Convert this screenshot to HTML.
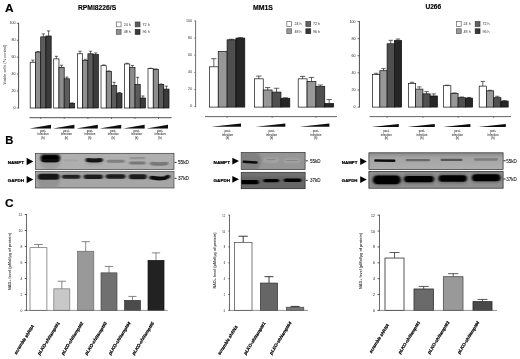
<!DOCTYPE html>
<html lang="en"><head><meta charset="utf-8"><title>Figure</title>
<style>html,body{margin:0;padding:0;background:#fff;}svg{display:block;font-family:'Liberation Sans', sans-serif;}</style>
</head><body>
<svg width="520" height="359" viewBox="0 0 520 359">
<defs>
<filter id="b1" filterUnits="userSpaceOnUse" x="0" y="140" width="520" height="60"><feGaussianBlur stdDeviation="0.9 0.6"/></filter>
<filter id="b2" filterUnits="userSpaceOnUse" x="0" y="140" width="520" height="60"><feGaussianBlur stdDeviation="1.3 0.9"/></filter>
<filter id="b3" filterUnits="userSpaceOnUse" x="0" y="140" width="520" height="60"><feGaussianBlur stdDeviation="0.6 0.45"/></filter>
<filter id="soft" x="-5%" y="-5%" width="110%" height="110%"><feGaussianBlur stdDeviation="0.35"/></filter>
<linearGradient id="g3a" x1="0" y1="0" x2="0" y2="1"><stop offset="0" stop-color="#8a8a8a"/><stop offset="0.3" stop-color="#a4a4a4"/><stop offset="1" stop-color="#aeaeae"/></linearGradient>
</defs>
<rect x="0" y="0" width="520" height="359" fill="#fff"/>
<g filter="url(#soft)">
<text x="5.00" y="11.60" font-size="11.2" font-weight="bold" text-anchor="start" fill="#000" stroke="#000" stroke-width="0.15" textLength="8.60" lengthAdjust="spacingAndGlyphs">A</text>
<text x="5.30" y="144.30" font-size="11.2" font-weight="bold" text-anchor="start" fill="#000" stroke="#000" stroke-width="0.15" textLength="8.10" lengthAdjust="spacingAndGlyphs">B</text>
<text x="4.90" y="206.90" font-size="11.6" font-weight="bold" text-anchor="start" fill="#000" stroke="#000" stroke-width="0.15" textLength="8.60" lengthAdjust="spacingAndGlyphs">C</text>
<text x="78.00" y="10.20" font-size="6.9" font-weight="bold" text-anchor="start" fill="#000" stroke="#000" stroke-width="0.15" textLength="38.20" lengthAdjust="spacingAndGlyphs">RPMI8226/S</text>
<text x="253.00" y="9.50" font-size="6.9" font-weight="bold" text-anchor="start" fill="#000" stroke="#000" stroke-width="0.15" textLength="20.00" lengthAdjust="spacingAndGlyphs">MM1S</text>
<text x="425.40" y="9.30" font-size="6.9" font-weight="bold" text-anchor="start" fill="#000" stroke="#000" stroke-width="0.15" textLength="15.80" lengthAdjust="spacingAndGlyphs">U266</text>
<line x1="18.60" y1="22.90" x2="18.60" y2="108.40" stroke="#3a3a3a" stroke-width="0.9"/>
<line x1="16.80" y1="108.00" x2="18.60" y2="108.00" stroke="#3a3a3a" stroke-width="0.7"/>
<text x="15.60" y="108.90" font-size="4.1" font-weight="normal" text-anchor="end" fill="#2a2a2a"  textLength="2.07" lengthAdjust="spacingAndGlyphs">0</text>
<line x1="16.80" y1="91.06" x2="18.60" y2="91.06" stroke="#3a3a3a" stroke-width="0.7"/>
<text x="15.60" y="91.96" font-size="4.1" font-weight="normal" text-anchor="end" fill="#2a2a2a"  textLength="4.13" lengthAdjust="spacingAndGlyphs">20</text>
<line x1="16.80" y1="74.12" x2="18.60" y2="74.12" stroke="#3a3a3a" stroke-width="0.7"/>
<text x="15.60" y="75.02" font-size="4.1" font-weight="normal" text-anchor="end" fill="#2a2a2a"  textLength="4.13" lengthAdjust="spacingAndGlyphs">40</text>
<line x1="16.80" y1="57.18" x2="18.60" y2="57.18" stroke="#3a3a3a" stroke-width="0.7"/>
<text x="15.60" y="58.08" font-size="4.1" font-weight="normal" text-anchor="end" fill="#2a2a2a"  textLength="4.13" lengthAdjust="spacingAndGlyphs">60</text>
<line x1="16.80" y1="40.24" x2="18.60" y2="40.24" stroke="#3a3a3a" stroke-width="0.7"/>
<text x="15.60" y="41.14" font-size="4.1" font-weight="normal" text-anchor="end" fill="#2a2a2a"  textLength="4.13" lengthAdjust="spacingAndGlyphs">80</text>
<line x1="16.80" y1="23.30" x2="18.60" y2="23.30" stroke="#3a3a3a" stroke-width="0.7"/>
<text x="15.60" y="24.20" font-size="4.1" font-weight="normal" text-anchor="end" fill="#2a2a2a"  textLength="6.20" lengthAdjust="spacingAndGlyphs">100</text>
<line x1="32.83" y1="62.26" x2="32.83" y2="60.14" stroke="#222" stroke-width="0.7"/>
<line x1="31.25" y1="60.14" x2="34.40" y2="60.14" stroke="#222" stroke-width="0.7"/>
<rect x="30.20" y="62.26" width="5.25" height="45.74" fill="#ffffff" stroke="#111" stroke-width="0.7" />
<line x1="38.08" y1="52.10" x2="38.08" y2="51.59" stroke="#222" stroke-width="0.7"/>
<line x1="36.50" y1="51.59" x2="39.65" y2="51.59" stroke="#222" stroke-width="0.7"/>
<rect x="35.45" y="52.10" width="5.25" height="55.90" fill="#8e8e8e" stroke="#111" stroke-width="0.7" />
<line x1="43.33" y1="36.85" x2="43.33" y2="33.89" stroke="#222" stroke-width="0.7"/>
<line x1="41.75" y1="33.89" x2="44.90" y2="33.89" stroke="#222" stroke-width="0.7"/>
<rect x="40.70" y="36.85" width="5.25" height="71.15" fill="#5c5c5c" stroke="#111" stroke-width="0.7" />
<line x1="48.58" y1="36.00" x2="48.58" y2="30.92" stroke="#222" stroke-width="0.7"/>
<line x1="47.00" y1="30.92" x2="50.15" y2="30.92" stroke="#222" stroke-width="0.7"/>
<rect x="45.95" y="36.00" width="5.25" height="72.00" fill="#3a3a3a" stroke="#111" stroke-width="0.7" />
<line x1="56.33" y1="58.87" x2="56.33" y2="56.33" stroke="#222" stroke-width="0.7"/>
<line x1="54.75" y1="56.33" x2="57.90" y2="56.33" stroke="#222" stroke-width="0.7"/>
<rect x="53.70" y="58.87" width="5.25" height="49.13" fill="#ffffff" stroke="#111" stroke-width="0.7" />
<line x1="61.58" y1="67.34" x2="61.58" y2="65.23" stroke="#222" stroke-width="0.7"/>
<line x1="60.00" y1="65.23" x2="63.15" y2="65.23" stroke="#222" stroke-width="0.7"/>
<rect x="58.95" y="67.34" width="5.25" height="40.66" fill="#8e8e8e" stroke="#111" stroke-width="0.7" />
<line x1="66.83" y1="78.78" x2="66.83" y2="77.08" stroke="#222" stroke-width="0.7"/>
<line x1="65.25" y1="77.08" x2="68.40" y2="77.08" stroke="#222" stroke-width="0.7"/>
<rect x="64.20" y="78.78" width="5.25" height="29.22" fill="#5c5c5c" stroke="#111" stroke-width="0.7" />
<line x1="72.08" y1="103.34" x2="72.08" y2="102.83" stroke="#222" stroke-width="0.7"/>
<line x1="70.50" y1="102.83" x2="73.65" y2="102.83" stroke="#222" stroke-width="0.7"/>
<rect x="69.45" y="103.34" width="5.25" height="4.66" fill="#3a3a3a" stroke="#111" stroke-width="0.7" />
<line x1="80.03" y1="53.79" x2="80.03" y2="51.25" stroke="#222" stroke-width="0.7"/>
<line x1="78.45" y1="51.25" x2="81.60" y2="51.25" stroke="#222" stroke-width="0.7"/>
<rect x="77.40" y="53.79" width="5.25" height="54.21" fill="#ffffff" stroke="#111" stroke-width="0.7" />
<line x1="85.28" y1="60.57" x2="85.28" y2="59.30" stroke="#222" stroke-width="0.7"/>
<line x1="83.70" y1="59.30" x2="86.85" y2="59.30" stroke="#222" stroke-width="0.7"/>
<rect x="82.65" y="60.57" width="5.25" height="47.43" fill="#8e8e8e" stroke="#111" stroke-width="0.7" />
<line x1="90.53" y1="53.79" x2="90.53" y2="51.25" stroke="#222" stroke-width="0.7"/>
<line x1="88.95" y1="51.25" x2="92.10" y2="51.25" stroke="#222" stroke-width="0.7"/>
<rect x="87.90" y="53.79" width="5.25" height="54.21" fill="#5c5c5c" stroke="#111" stroke-width="0.7" />
<line x1="95.78" y1="54.64" x2="95.78" y2="52.95" stroke="#222" stroke-width="0.7"/>
<line x1="94.20" y1="52.95" x2="97.35" y2="52.95" stroke="#222" stroke-width="0.7"/>
<rect x="93.15" y="54.64" width="5.25" height="53.36" fill="#3a3a3a" stroke="#111" stroke-width="0.7" />
<line x1="103.62" y1="65.65" x2="103.62" y2="64.97" stroke="#222" stroke-width="0.7"/>
<line x1="102.05" y1="64.97" x2="105.20" y2="64.97" stroke="#222" stroke-width="0.7"/>
<rect x="101.00" y="65.65" width="5.25" height="42.35" fill="#ffffff" stroke="#111" stroke-width="0.7" />
<line x1="108.88" y1="71.58" x2="108.88" y2="70.90" stroke="#222" stroke-width="0.7"/>
<line x1="107.30" y1="70.90" x2="110.45" y2="70.90" stroke="#222" stroke-width="0.7"/>
<rect x="106.25" y="71.58" width="5.25" height="36.42" fill="#8e8e8e" stroke="#111" stroke-width="0.7" />
<line x1="114.12" y1="85.55" x2="114.12" y2="82.34" stroke="#222" stroke-width="0.7"/>
<line x1="112.55" y1="82.34" x2="115.70" y2="82.34" stroke="#222" stroke-width="0.7"/>
<rect x="111.50" y="85.55" width="5.25" height="22.45" fill="#5c5c5c" stroke="#111" stroke-width="0.7" />
<line x1="119.38" y1="93.18" x2="119.38" y2="92.67" stroke="#222" stroke-width="0.7"/>
<line x1="117.80" y1="92.67" x2="120.95" y2="92.67" stroke="#222" stroke-width="0.7"/>
<rect x="116.75" y="93.18" width="5.25" height="14.82" fill="#3a3a3a" stroke="#111" stroke-width="0.7" />
<line x1="127.12" y1="63.96" x2="127.12" y2="63.28" stroke="#222" stroke-width="0.7"/>
<line x1="125.55" y1="63.28" x2="128.70" y2="63.28" stroke="#222" stroke-width="0.7"/>
<rect x="124.50" y="63.96" width="5.25" height="44.04" fill="#ffffff" stroke="#111" stroke-width="0.7" />
<line x1="132.38" y1="67.51" x2="132.38" y2="65.48" stroke="#222" stroke-width="0.7"/>
<line x1="130.80" y1="65.48" x2="133.95" y2="65.48" stroke="#222" stroke-width="0.7"/>
<rect x="129.75" y="67.51" width="5.25" height="40.49" fill="#8e8e8e" stroke="#111" stroke-width="0.7" />
<line x1="137.62" y1="84.54" x2="137.62" y2="77.34" stroke="#222" stroke-width="0.7"/>
<line x1="136.05" y1="77.34" x2="139.20" y2="77.34" stroke="#222" stroke-width="0.7"/>
<rect x="135.00" y="84.54" width="5.25" height="23.46" fill="#5c5c5c" stroke="#111" stroke-width="0.7" />
<line x1="142.88" y1="98.01" x2="142.88" y2="95.97" stroke="#222" stroke-width="0.7"/>
<line x1="141.30" y1="95.97" x2="144.45" y2="95.97" stroke="#222" stroke-width="0.7"/>
<rect x="140.25" y="98.01" width="5.25" height="9.99" fill="#3a3a3a" stroke="#111" stroke-width="0.7" />
<line x1="150.62" y1="68.61" x2="150.62" y2="68.19" stroke="#222" stroke-width="0.7"/>
<line x1="149.05" y1="68.19" x2="152.20" y2="68.19" stroke="#222" stroke-width="0.7"/>
<rect x="148.00" y="68.61" width="5.25" height="39.39" fill="#ffffff" stroke="#111" stroke-width="0.7" />
<line x1="155.88" y1="69.55" x2="155.88" y2="68.87" stroke="#222" stroke-width="0.7"/>
<line x1="154.30" y1="68.87" x2="157.45" y2="68.87" stroke="#222" stroke-width="0.7"/>
<rect x="153.25" y="69.55" width="5.25" height="38.45" fill="#8e8e8e" stroke="#111" stroke-width="0.7" />
<line x1="161.12" y1="84.54" x2="161.12" y2="84.03" stroke="#222" stroke-width="0.7"/>
<line x1="159.55" y1="84.03" x2="162.70" y2="84.03" stroke="#222" stroke-width="0.7"/>
<rect x="158.50" y="84.54" width="5.25" height="23.46" fill="#5c5c5c" stroke="#111" stroke-width="0.7" />
<line x1="166.38" y1="89.11" x2="166.38" y2="86.15" stroke="#222" stroke-width="0.7"/>
<line x1="164.80" y1="86.15" x2="167.95" y2="86.15" stroke="#222" stroke-width="0.7"/>
<rect x="163.75" y="89.11" width="5.25" height="18.89" fill="#3a3a3a" stroke="#111" stroke-width="0.7" />
<line x1="29.50" y1="117.70" x2="171.60" y2="117.70" stroke="#3a3a3a" stroke-width="0.9"/>
<line x1="40.70" y1="117.70" x2="40.70" y2="119.00" stroke="#444" stroke-width="0.7"/>
<line x1="64.20" y1="117.70" x2="64.20" y2="119.00" stroke="#444" stroke-width="0.7"/>
<line x1="87.90" y1="117.70" x2="87.90" y2="119.00" stroke="#444" stroke-width="0.7"/>
<line x1="111.50" y1="117.70" x2="111.50" y2="119.00" stroke="#444" stroke-width="0.7"/>
<line x1="135.00" y1="117.70" x2="135.00" y2="119.00" stroke="#444" stroke-width="0.7"/>
<line x1="158.50" y1="117.70" x2="158.50" y2="119.00" stroke="#444" stroke-width="0.7"/>
<text transform="translate(6.0,64.6) rotate(-90)" font-size="4.0" text-anchor="middle" fill="#333" textLength="40" lengthAdjust="spacingAndGlyphs">Viable cells (% control)</text>
<rect x="116.30" y="22.00" width="4.80" height="4.80" fill="#ffffff" stroke="#666" stroke-width="0.7" />
<rect x="116.30" y="29.50" width="4.80" height="4.80" fill="#8e8e8e" stroke="#5a5a5a" stroke-width="0.7" />
<rect x="135.20" y="22.00" width="4.80" height="4.80" fill="#5c5c5c" stroke="#3a3a3a" stroke-width="0.7" />
<rect x="135.20" y="29.50" width="4.80" height="4.80" fill="#3a3a3a" stroke="#222" stroke-width="0.7" />
<text x="123.80" y="25.85" font-size="4.0" font-weight="normal" text-anchor="start" fill="#2a2a2a"  textLength="7.10" lengthAdjust="spacingAndGlyphs">24 h</text>
<text x="123.80" y="33.35" font-size="4.0" font-weight="normal" text-anchor="start" fill="#2a2a2a"  textLength="7.10" lengthAdjust="spacingAndGlyphs">48 h</text>
<text x="142.60" y="25.85" font-size="4.0" font-weight="normal" text-anchor="start" fill="#2a2a2a"  textLength="7.10" lengthAdjust="spacingAndGlyphs">72 h</text>
<text x="142.60" y="33.35" font-size="4.0" font-weight="normal" text-anchor="start" fill="#2a2a2a"  textLength="7.10" lengthAdjust="spacingAndGlyphs">96 h</text>
<polygon points="29.60,128.50 51.00,128.50 51.00,124.80" fill="#0a0a0a"/>
<text x="43.00" y="131.60" font-size="2.6" font-weight="bold" text-anchor="middle" fill="#404040"  textLength="6.20" lengthAdjust="spacingAndGlyphs">post-</text>
<text x="43.00" y="135.00" font-size="2.6" font-weight="bold" text-anchor="middle" fill="#404040"  textLength="11.00" lengthAdjust="spacingAndGlyphs">infection</text>
<text x="43.00" y="138.60" font-size="2.6" font-weight="bold" text-anchor="middle" fill="#404040" >(h)</text>
<polygon points="53.00,128.50 74.40,128.50 74.40,124.80" fill="#0a0a0a"/>
<text x="66.40" y="131.60" font-size="2.6" font-weight="bold" text-anchor="middle" fill="#404040"  textLength="6.20" lengthAdjust="spacingAndGlyphs">post-</text>
<text x="66.40" y="135.00" font-size="2.6" font-weight="bold" text-anchor="middle" fill="#404040"  textLength="11.00" lengthAdjust="spacingAndGlyphs">infection</text>
<text x="66.40" y="138.60" font-size="2.6" font-weight="bold" text-anchor="middle" fill="#404040" >(h)</text>
<polygon points="76.40,128.50 97.80,128.50 97.80,124.80" fill="#0a0a0a"/>
<text x="89.80" y="131.60" font-size="2.6" font-weight="bold" text-anchor="middle" fill="#404040"  textLength="6.20" lengthAdjust="spacingAndGlyphs">post-</text>
<text x="89.80" y="135.00" font-size="2.6" font-weight="bold" text-anchor="middle" fill="#404040"  textLength="11.00" lengthAdjust="spacingAndGlyphs">infection</text>
<text x="89.80" y="138.60" font-size="2.6" font-weight="bold" text-anchor="middle" fill="#404040" >(h)</text>
<polygon points="99.80,128.50 121.20,128.50 121.20,124.80" fill="#0a0a0a"/>
<text x="113.20" y="131.60" font-size="2.6" font-weight="bold" text-anchor="middle" fill="#404040"  textLength="6.20" lengthAdjust="spacingAndGlyphs">post-</text>
<text x="113.20" y="135.00" font-size="2.6" font-weight="bold" text-anchor="middle" fill="#404040"  textLength="11.00" lengthAdjust="spacingAndGlyphs">infection</text>
<text x="113.20" y="138.60" font-size="2.6" font-weight="bold" text-anchor="middle" fill="#404040" >(h)</text>
<polygon points="123.20,128.50 144.60,128.50 144.60,124.80" fill="#0a0a0a"/>
<text x="136.60" y="131.60" font-size="2.6" font-weight="bold" text-anchor="middle" fill="#404040"  textLength="6.20" lengthAdjust="spacingAndGlyphs">post-</text>
<text x="136.60" y="135.00" font-size="2.6" font-weight="bold" text-anchor="middle" fill="#404040"  textLength="11.00" lengthAdjust="spacingAndGlyphs">infection</text>
<text x="136.60" y="138.60" font-size="2.6" font-weight="bold" text-anchor="middle" fill="#404040" >(h)</text>
<polygon points="146.60,128.50 168.00,128.50 168.00,124.80" fill="#0a0a0a"/>
<text x="160.00" y="131.60" font-size="2.6" font-weight="bold" text-anchor="middle" fill="#404040"  textLength="6.20" lengthAdjust="spacingAndGlyphs">post-</text>
<text x="160.00" y="135.00" font-size="2.6" font-weight="bold" text-anchor="middle" fill="#404040"  textLength="11.00" lengthAdjust="spacingAndGlyphs">infection</text>
<text x="160.00" y="138.60" font-size="2.6" font-weight="bold" text-anchor="middle" fill="#404040" >(h)</text>
<line x1="195.60" y1="20.60" x2="195.60" y2="107.10" stroke="#4a4a4a" stroke-width="0.8"/>
<line x1="194.30" y1="106.70" x2="195.60" y2="106.70" stroke="#4a4a4a" stroke-width="0.7"/>
<text x="191.90" y="107.20" font-size="3.9" font-weight="normal" text-anchor="end" fill="#333"  textLength="2.00" lengthAdjust="spacingAndGlyphs">0</text>
<line x1="194.30" y1="89.56" x2="195.60" y2="89.56" stroke="#4a4a4a" stroke-width="0.7"/>
<text x="191.90" y="90.06" font-size="3.9" font-weight="normal" text-anchor="end" fill="#333"  textLength="4.00" lengthAdjust="spacingAndGlyphs">20</text>
<line x1="194.30" y1="72.42" x2="195.60" y2="72.42" stroke="#4a4a4a" stroke-width="0.7"/>
<text x="191.90" y="72.92" font-size="3.9" font-weight="normal" text-anchor="end" fill="#333"  textLength="4.00" lengthAdjust="spacingAndGlyphs">40</text>
<line x1="194.30" y1="55.28" x2="195.60" y2="55.28" stroke="#4a4a4a" stroke-width="0.7"/>
<text x="191.90" y="55.78" font-size="3.9" font-weight="normal" text-anchor="end" fill="#333"  textLength="4.00" lengthAdjust="spacingAndGlyphs">60</text>
<line x1="194.30" y1="38.14" x2="195.60" y2="38.14" stroke="#4a4a4a" stroke-width="0.7"/>
<text x="191.90" y="38.64" font-size="3.9" font-weight="normal" text-anchor="end" fill="#333"  textLength="4.00" lengthAdjust="spacingAndGlyphs">80</text>
<line x1="194.30" y1="21.00" x2="195.60" y2="21.00" stroke="#4a4a4a" stroke-width="0.7"/>
<text x="191.90" y="21.50" font-size="3.9" font-weight="normal" text-anchor="end" fill="#333"  textLength="6.00" lengthAdjust="spacingAndGlyphs">100</text>
<line x1="213.83" y1="66.82" x2="213.83" y2="58.68" stroke="#222" stroke-width="0.7"/>
<line x1="211.17" y1="58.68" x2="216.48" y2="58.68" stroke="#222" stroke-width="0.7"/>
<rect x="209.40" y="66.82" width="8.85" height="40.28" fill="#ffffff" stroke="#111" stroke-width="0.7" />
<rect x="218.25" y="51.40" width="8.85" height="55.71" fill="#989898" stroke="#111" stroke-width="0.7" />
<line x1="231.53" y1="39.83" x2="231.53" y2="39.31" stroke="#222" stroke-width="0.7"/>
<line x1="228.87" y1="39.31" x2="234.18" y2="39.31" stroke="#222" stroke-width="0.7"/>
<rect x="227.10" y="39.83" width="8.85" height="67.27" fill="#505050" stroke="#111" stroke-width="0.7" />
<line x1="240.38" y1="38.11" x2="240.38" y2="37.60" stroke="#222" stroke-width="0.7"/>
<line x1="237.72" y1="37.60" x2="243.03" y2="37.60" stroke="#222" stroke-width="0.7"/>
<rect x="235.95" y="38.11" width="8.85" height="68.99" fill="#262626" stroke="#111" stroke-width="0.7" />
<line x1="258.82" y1="78.82" x2="258.82" y2="76.08" stroke="#222" stroke-width="0.7"/>
<line x1="256.17" y1="76.08" x2="261.48" y2="76.08" stroke="#222" stroke-width="0.7"/>
<rect x="254.40" y="78.82" width="8.85" height="28.28" fill="#ffffff" stroke="#111" stroke-width="0.7" />
<line x1="267.68" y1="89.96" x2="267.68" y2="87.56" stroke="#222" stroke-width="0.7"/>
<line x1="265.02" y1="87.56" x2="270.33" y2="87.56" stroke="#222" stroke-width="0.7"/>
<rect x="263.25" y="89.96" width="8.85" height="17.14" fill="#989898" stroke="#111" stroke-width="0.7" />
<line x1="276.53" y1="92.10" x2="276.53" y2="88.25" stroke="#222" stroke-width="0.7"/>
<line x1="273.87" y1="88.25" x2="279.18" y2="88.25" stroke="#222" stroke-width="0.7"/>
<rect x="272.10" y="92.10" width="8.85" height="15.00" fill="#505050" stroke="#111" stroke-width="0.7" />
<line x1="285.38" y1="98.27" x2="285.38" y2="97.76" stroke="#222" stroke-width="0.7"/>
<line x1="282.72" y1="97.76" x2="288.03" y2="97.76" stroke="#222" stroke-width="0.7"/>
<rect x="280.95" y="98.27" width="8.85" height="8.83" fill="#262626" stroke="#111" stroke-width="0.7" />
<line x1="302.62" y1="78.82" x2="302.62" y2="76.42" stroke="#222" stroke-width="0.7"/>
<line x1="299.97" y1="76.42" x2="305.28" y2="76.42" stroke="#222" stroke-width="0.7"/>
<rect x="298.20" y="78.82" width="8.85" height="28.28" fill="#ffffff" stroke="#111" stroke-width="0.7" />
<line x1="311.48" y1="81.39" x2="311.48" y2="77.45" stroke="#222" stroke-width="0.7"/>
<line x1="308.82" y1="77.45" x2="314.13" y2="77.45" stroke="#222" stroke-width="0.7"/>
<rect x="307.05" y="81.39" width="8.85" height="25.71" fill="#989898" stroke="#111" stroke-width="0.7" />
<line x1="320.32" y1="86.53" x2="320.32" y2="84.99" stroke="#222" stroke-width="0.7"/>
<line x1="317.67" y1="84.99" x2="322.98" y2="84.99" stroke="#222" stroke-width="0.7"/>
<rect x="315.90" y="86.53" width="8.85" height="20.57" fill="#505050" stroke="#111" stroke-width="0.7" />
<line x1="329.18" y1="103.50" x2="329.18" y2="99.56" stroke="#222" stroke-width="0.7"/>
<line x1="326.52" y1="99.56" x2="331.83" y2="99.56" stroke="#222" stroke-width="0.7"/>
<rect x="324.75" y="103.50" width="8.85" height="3.60" fill="#262626" stroke="#111" stroke-width="0.7" />
<line x1="205.00" y1="116.60" x2="337.00" y2="116.60" stroke="#666" stroke-width="1.0"/>
<line x1="227.10" y1="116.60" x2="227.10" y2="117.90" stroke="#444" stroke-width="0.7"/>
<line x1="272.10" y1="116.60" x2="272.10" y2="117.90" stroke="#444" stroke-width="0.7"/>
<line x1="315.90" y1="116.60" x2="315.90" y2="117.90" stroke="#444" stroke-width="0.7"/>
<rect x="286.80" y="21.60" width="4.80" height="4.80" fill="#ffffff" stroke="#666" stroke-width="0.7" />
<rect x="286.80" y="28.80" width="4.80" height="4.80" fill="#999999" stroke="#5a5a5a" stroke-width="0.7" />
<rect x="305.90" y="21.60" width="4.80" height="4.80" fill="#626262" stroke="#3a3a3a" stroke-width="0.7" />
<rect x="305.90" y="28.80" width="4.80" height="4.80" fill="#383838" stroke="#222" stroke-width="0.7" />
<text x="294.40" y="25.45" font-size="4.0" font-weight="normal" text-anchor="start" fill="#2a2a2a"  textLength="7.10" lengthAdjust="spacingAndGlyphs">24 h</text>
<text x="294.40" y="32.65" font-size="4.0" font-weight="normal" text-anchor="start" fill="#2a2a2a"  textLength="7.10" lengthAdjust="spacingAndGlyphs">48 h</text>
<text x="313.00" y="25.45" font-size="4.0" font-weight="normal" text-anchor="start" fill="#2a2a2a"  textLength="7.10" lengthAdjust="spacingAndGlyphs">72 h</text>
<text x="313.00" y="32.65" font-size="4.0" font-weight="normal" text-anchor="start" fill="#2a2a2a"  textLength="7.10" lengthAdjust="spacingAndGlyphs">96 h</text>
<polygon points="211.20,126.80 241.00,126.80 241.00,123.40" fill="#0a0a0a"/>
<text x="227.50" y="132.10" font-size="2.6" font-weight="bold" text-anchor="middle" fill="#404040"  textLength="6.20" lengthAdjust="spacingAndGlyphs">post-</text>
<text x="227.50" y="135.50" font-size="2.6" font-weight="bold" text-anchor="middle" fill="#404040"  textLength="11.00" lengthAdjust="spacingAndGlyphs">infection</text>
<text x="227.50" y="139.10" font-size="2.6" font-weight="bold" text-anchor="middle" fill="#404040" >(h)</text>
<polygon points="255.50,126.80 285.30,126.80 285.30,123.40" fill="#0a0a0a"/>
<text x="271.50" y="132.10" font-size="2.6" font-weight="bold" text-anchor="middle" fill="#404040"  textLength="6.20" lengthAdjust="spacingAndGlyphs">post-</text>
<text x="271.50" y="135.50" font-size="2.6" font-weight="bold" text-anchor="middle" fill="#404040"  textLength="11.00" lengthAdjust="spacingAndGlyphs">infection</text>
<text x="271.50" y="139.10" font-size="2.6" font-weight="bold" text-anchor="middle" fill="#404040" >(h)</text>
<polygon points="299.60,126.80 329.40,126.80 329.40,123.40" fill="#0a0a0a"/>
<text x="315.80" y="132.10" font-size="2.6" font-weight="bold" text-anchor="middle" fill="#404040"  textLength="6.20" lengthAdjust="spacingAndGlyphs">post-</text>
<text x="315.80" y="135.50" font-size="2.6" font-weight="bold" text-anchor="middle" fill="#404040"  textLength="11.00" lengthAdjust="spacingAndGlyphs">infection</text>
<text x="315.80" y="139.10" font-size="2.6" font-weight="bold" text-anchor="middle" fill="#404040" >(h)</text>
<line x1="359.40" y1="21.10" x2="359.40" y2="107.50" stroke="#333" stroke-width="0.9"/>
<line x1="357.50" y1="107.10" x2="359.40" y2="107.10" stroke="#333" stroke-width="0.7"/>
<text x="355.60" y="108.40" font-size="4.0" font-weight="normal" text-anchor="end" fill="#2a2a2a"  textLength="2.07" lengthAdjust="spacingAndGlyphs">0</text>
<line x1="357.50" y1="89.98" x2="359.40" y2="89.98" stroke="#333" stroke-width="0.7"/>
<text x="355.60" y="91.28" font-size="4.0" font-weight="normal" text-anchor="end" fill="#2a2a2a"  textLength="4.13" lengthAdjust="spacingAndGlyphs">20</text>
<line x1="357.50" y1="72.86" x2="359.40" y2="72.86" stroke="#333" stroke-width="0.7"/>
<text x="355.60" y="74.16" font-size="4.0" font-weight="normal" text-anchor="end" fill="#2a2a2a"  textLength="4.13" lengthAdjust="spacingAndGlyphs">40</text>
<line x1="357.50" y1="55.74" x2="359.40" y2="55.74" stroke="#333" stroke-width="0.7"/>
<text x="355.60" y="57.04" font-size="4.0" font-weight="normal" text-anchor="end" fill="#2a2a2a"  textLength="4.13" lengthAdjust="spacingAndGlyphs">60</text>
<line x1="357.50" y1="38.62" x2="359.40" y2="38.62" stroke="#333" stroke-width="0.7"/>
<text x="355.60" y="39.92" font-size="4.0" font-weight="normal" text-anchor="end" fill="#2a2a2a"  textLength="4.13" lengthAdjust="spacingAndGlyphs">80</text>
<line x1="357.50" y1="21.50" x2="359.40" y2="21.50" stroke="#333" stroke-width="0.7"/>
<text x="355.60" y="22.80" font-size="4.0" font-weight="normal" text-anchor="end" fill="#2a2a2a"  textLength="6.20" lengthAdjust="spacingAndGlyphs">100</text>
<line x1="376.23" y1="74.57" x2="376.23" y2="73.29" stroke="#222" stroke-width="0.7"/>
<line x1="374.05" y1="73.29" x2="378.40" y2="73.29" stroke="#222" stroke-width="0.7"/>
<rect x="372.60" y="74.57" width="7.25" height="32.53" fill="#ffffff" stroke="#111" stroke-width="0.7" />
<line x1="383.48" y1="70.72" x2="383.48" y2="68.58" stroke="#222" stroke-width="0.7"/>
<line x1="381.30" y1="68.58" x2="385.65" y2="68.58" stroke="#222" stroke-width="0.7"/>
<rect x="379.85" y="70.72" width="7.25" height="36.38" fill="#989898" stroke="#111" stroke-width="0.7" />
<line x1="390.73" y1="43.76" x2="390.73" y2="40.33" stroke="#222" stroke-width="0.7"/>
<line x1="388.55" y1="40.33" x2="392.90" y2="40.33" stroke="#222" stroke-width="0.7"/>
<rect x="387.10" y="43.76" width="7.25" height="63.34" fill="#505050" stroke="#111" stroke-width="0.7" />
<line x1="397.98" y1="40.33" x2="397.98" y2="39.05" stroke="#222" stroke-width="0.7"/>
<line x1="395.80" y1="39.05" x2="400.15" y2="39.05" stroke="#222" stroke-width="0.7"/>
<rect x="394.35" y="40.33" width="7.25" height="66.77" fill="#262626" stroke="#111" stroke-width="0.7" />
<line x1="412.02" y1="83.56" x2="412.02" y2="82.28" stroke="#222" stroke-width="0.7"/>
<line x1="409.85" y1="82.28" x2="414.20" y2="82.28" stroke="#222" stroke-width="0.7"/>
<rect x="408.40" y="83.56" width="7.25" height="23.54" fill="#ffffff" stroke="#111" stroke-width="0.7" />
<line x1="419.27" y1="89.12" x2="419.27" y2="86.90" stroke="#222" stroke-width="0.7"/>
<line x1="417.10" y1="86.90" x2="421.45" y2="86.90" stroke="#222" stroke-width="0.7"/>
<rect x="415.65" y="89.12" width="7.25" height="17.98" fill="#989898" stroke="#111" stroke-width="0.7" />
<line x1="426.52" y1="93.83" x2="426.52" y2="91.61" stroke="#222" stroke-width="0.7"/>
<line x1="424.35" y1="91.61" x2="428.70" y2="91.61" stroke="#222" stroke-width="0.7"/>
<rect x="422.90" y="93.83" width="7.25" height="13.27" fill="#505050" stroke="#111" stroke-width="0.7" />
<line x1="433.77" y1="95.97" x2="433.77" y2="93.92" stroke="#222" stroke-width="0.7"/>
<line x1="431.60" y1="93.92" x2="435.95" y2="93.92" stroke="#222" stroke-width="0.7"/>
<rect x="430.15" y="95.97" width="7.25" height="11.13" fill="#262626" stroke="#111" stroke-width="0.7" />
<line x1="447.23" y1="85.70" x2="447.23" y2="85.19" stroke="#222" stroke-width="0.7"/>
<line x1="445.05" y1="85.19" x2="449.40" y2="85.19" stroke="#222" stroke-width="0.7"/>
<rect x="443.60" y="85.70" width="7.25" height="21.40" fill="#ffffff" stroke="#111" stroke-width="0.7" />
<line x1="454.48" y1="93.40" x2="454.48" y2="92.89" stroke="#222" stroke-width="0.7"/>
<line x1="452.30" y1="92.89" x2="456.65" y2="92.89" stroke="#222" stroke-width="0.7"/>
<rect x="450.85" y="93.40" width="7.25" height="13.70" fill="#989898" stroke="#111" stroke-width="0.7" />
<line x1="461.73" y1="97.68" x2="461.73" y2="97.00" stroke="#222" stroke-width="0.7"/>
<line x1="459.55" y1="97.00" x2="463.90" y2="97.00" stroke="#222" stroke-width="0.7"/>
<rect x="458.10" y="97.68" width="7.25" height="9.42" fill="#505050" stroke="#111" stroke-width="0.7" />
<line x1="468.98" y1="98.11" x2="468.98" y2="97.43" stroke="#222" stroke-width="0.7"/>
<line x1="466.80" y1="97.43" x2="471.15" y2="97.43" stroke="#222" stroke-width="0.7"/>
<rect x="465.35" y="98.11" width="7.25" height="8.99" fill="#262626" stroke="#111" stroke-width="0.7" />
<line x1="482.82" y1="86.13" x2="482.82" y2="81.42" stroke="#222" stroke-width="0.7"/>
<line x1="480.65" y1="81.42" x2="485.00" y2="81.42" stroke="#222" stroke-width="0.7"/>
<rect x="479.20" y="86.13" width="7.25" height="20.97" fill="#ffffff" stroke="#111" stroke-width="0.7" />
<line x1="490.07" y1="90.84" x2="490.07" y2="90.32" stroke="#222" stroke-width="0.7"/>
<line x1="487.90" y1="90.32" x2="492.25" y2="90.32" stroke="#222" stroke-width="0.7"/>
<rect x="486.45" y="90.84" width="7.25" height="16.26" fill="#989898" stroke="#111" stroke-width="0.7" />
<line x1="497.32" y1="97.68" x2="497.32" y2="96.31" stroke="#222" stroke-width="0.7"/>
<line x1="495.15" y1="96.31" x2="499.50" y2="96.31" stroke="#222" stroke-width="0.7"/>
<rect x="493.70" y="97.68" width="7.25" height="9.42" fill="#505050" stroke="#111" stroke-width="0.7" />
<line x1="504.57" y1="101.11" x2="504.57" y2="100.59" stroke="#222" stroke-width="0.7"/>
<line x1="502.40" y1="100.59" x2="506.75" y2="100.59" stroke="#222" stroke-width="0.7"/>
<rect x="500.95" y="101.11" width="7.25" height="5.99" fill="#262626" stroke="#111" stroke-width="0.7" />
<line x1="369.60" y1="116.60" x2="511.00" y2="116.60" stroke="#555" stroke-width="0.9"/>
<line x1="387.10" y1="116.60" x2="387.10" y2="117.90" stroke="#444" stroke-width="0.7"/>
<line x1="422.90" y1="116.60" x2="422.90" y2="117.90" stroke="#444" stroke-width="0.7"/>
<line x1="458.10" y1="116.60" x2="458.10" y2="117.90" stroke="#444" stroke-width="0.7"/>
<line x1="493.70" y1="116.60" x2="493.70" y2="117.90" stroke="#444" stroke-width="0.7"/>
<rect x="456.40" y="21.60" width="4.80" height="4.80" fill="#ffffff" stroke="#666" stroke-width="0.7" />
<rect x="456.40" y="28.80" width="4.80" height="4.80" fill="#999999" stroke="#5a5a5a" stroke-width="0.7" />
<rect x="475.20" y="21.60" width="4.80" height="4.80" fill="#626262" stroke="#3a3a3a" stroke-width="0.7" />
<rect x="475.20" y="28.80" width="4.80" height="4.80" fill="#383838" stroke="#222" stroke-width="0.7" />
<text x="463.60" y="25.45" font-size="4.0" font-weight="normal" text-anchor="start" fill="#2a2a2a"  textLength="7.10" lengthAdjust="spacingAndGlyphs">24 h</text>
<text x="463.60" y="32.65" font-size="4.0" font-weight="normal" text-anchor="start" fill="#2a2a2a"  textLength="7.10" lengthAdjust="spacingAndGlyphs">48 h</text>
<text x="482.40" y="25.45" font-size="4.0" font-weight="normal" text-anchor="start" fill="#2a2a2a"  textLength="7.10" lengthAdjust="spacingAndGlyphs">72 h</text>
<text x="482.40" y="32.65" font-size="4.0" font-weight="normal" text-anchor="start" fill="#2a2a2a"  textLength="7.10" lengthAdjust="spacingAndGlyphs">96 h</text>
<polygon points="371.40,127.10 398.80,127.10 398.80,124.00" fill="#0a0a0a"/>
<text x="386.30" y="132.10" font-size="2.6" font-weight="bold" text-anchor="middle" fill="#404040"  textLength="6.20" lengthAdjust="spacingAndGlyphs">post-</text>
<text x="386.30" y="135.50" font-size="2.6" font-weight="bold" text-anchor="middle" fill="#404040"  textLength="11.00" lengthAdjust="spacingAndGlyphs">infection</text>
<text x="386.30" y="139.10" font-size="2.6" font-weight="bold" text-anchor="middle" fill="#404040" >(h)</text>
<polygon points="407.40,127.10 434.80,127.10 434.80,124.00" fill="#0a0a0a"/>
<text x="421.90" y="132.10" font-size="2.6" font-weight="bold" text-anchor="middle" fill="#404040"  textLength="6.20" lengthAdjust="spacingAndGlyphs">post-</text>
<text x="421.90" y="135.50" font-size="2.6" font-weight="bold" text-anchor="middle" fill="#404040"  textLength="11.00" lengthAdjust="spacingAndGlyphs">infection</text>
<text x="421.90" y="139.10" font-size="2.6" font-weight="bold" text-anchor="middle" fill="#404040" >(h)</text>
<polygon points="443.00,127.10 470.40,127.10 470.40,124.00" fill="#0a0a0a"/>
<text x="457.40" y="132.10" font-size="2.6" font-weight="bold" text-anchor="middle" fill="#404040"  textLength="6.20" lengthAdjust="spacingAndGlyphs">post-</text>
<text x="457.40" y="135.50" font-size="2.6" font-weight="bold" text-anchor="middle" fill="#404040"  textLength="11.00" lengthAdjust="spacingAndGlyphs">infection</text>
<text x="457.40" y="139.10" font-size="2.6" font-weight="bold" text-anchor="middle" fill="#404040" >(h)</text>
<polygon points="478.40,127.10 505.80,127.10 505.80,124.00" fill="#0a0a0a"/>
<text x="493.00" y="132.10" font-size="2.6" font-weight="bold" text-anchor="middle" fill="#404040"  textLength="6.20" lengthAdjust="spacingAndGlyphs">post-</text>
<text x="493.00" y="135.50" font-size="2.6" font-weight="bold" text-anchor="middle" fill="#404040"  textLength="11.00" lengthAdjust="spacingAndGlyphs">infection</text>
<text x="493.00" y="139.10" font-size="2.6" font-weight="bold" text-anchor="middle" fill="#404040" >(h)</text>
<g>
<rect x="35.50" y="153.30" width="138.50" height="16.20" fill="#afafaf" stroke="#333" stroke-width="0.65" />
<rect x="35.50" y="171.30" width="138.50" height="16.70" fill="#a6a6a6" stroke="#333" stroke-width="0.65" />
<clipPath id="c1a"><rect x="35.4" y="153.4" width="138.4" height="15.7"/></clipPath>
<clipPath id="c1b"><rect x="35.4" y="171.5" width="138.4" height="16.3"/></clipPath>
<g clip-path="url(#c1a)">
<rect x="39.80" y="152.00" width="21.00" height="18.00" rx="9.00" fill="#9c9c9c" opacity="0.85" filter="url(#b2)"/>
<rect x="40.30" y="152.60" width="20.00" height="10.00" rx="5.00" fill="#4a4a4a" opacity="0.85" filter="url(#b1)"/>
<rect x="41.10" y="155.00" width="18.40" height="7.20" rx="3.60" fill="#0c0c0c" opacity="1.0" filter="url(#b1)"/>
<rect x="42.30" y="156.10" width="16.00" height="2.60" rx="1.30" fill="#000" opacity="1.0" filter="url(#b3)"/>
<rect x="42.30" y="159.40" width="16.00" height="2.40" rx="1.20" fill="#111" opacity="0.8" filter="url(#b3)"/>
<rect x="63.50" y="159.60" width="15.00" height="2.00" rx="1.00" fill="#a4a4a4" opacity="0.9" filter="url(#b1)"/>
<rect x="85.70" y="158.00" width="17.00" height="7.00" rx="3.50" fill="#9a9a9a" opacity="0.7" filter="url(#b2)"/>
<path d="M87.60,160.00 Q94.20,161.00 100.80,160.00" fill="none" stroke="#181818" stroke-width="4.20" stroke-linecap="round" opacity="1.0" filter="url(#b1)"/>
<rect x="106.70" y="159.75" width="18.00" height="3.10" rx="1.55" fill="#808080" opacity="1.0" filter="url(#b1)"/>
<rect x="129.65" y="157.10" width="15.50" height="2.20" rx="1.10" fill="#929292" opacity="1.0" filter="url(#b1)"/>
<rect x="129.15" y="161.40" width="16.50" height="3.20" rx="1.60" fill="#787878" opacity="1.0" filter="url(#b1)"/>
<path d="M151.60,163.50 Q159.10,164.50 166.60,163.50" fill="none" stroke="#787878" stroke-width="3.60" stroke-linecap="round" opacity="1.0" filter="url(#b1)"/>
</g>
<g clip-path="url(#c1b)">
<rect x="35" y="171" width="140" height="8.5" fill="#9c9c9c" opacity="0.55" filter="url(#b2)"/>
<rect x="37.70" y="173.00" width="22.00" height="16.00" rx="8.00" fill="#8c8c8c" opacity="0.75" filter="url(#b2)"/>
<rect x="37.90" y="173.75" width="21.60" height="6.00" rx="3.00" fill="#181818" opacity="1.0" filter="url(#b1)"/>
<rect x="61.90" y="174.65" width="18.60" height="4.20" rx="2.10" fill="#222" opacity="1.0" filter="url(#b1)"/>
<rect x="83.60" y="174.40" width="19.40" height="4.60" rx="2.30" fill="#1e1e1e" opacity="1.0" filter="url(#b1)"/>
<rect x="105.70" y="174.20" width="19.80" height="4.60" rx="2.30" fill="#1c1c1c" opacity="1.0" filter="url(#b1)"/>
<rect x="128.80" y="174.35" width="18.00" height="4.80" rx="2.40" fill="#1c1c1c" opacity="1.0" filter="url(#b1)"/>
<path d="M151.2,177.6 L159,178.5 L164.5,178.2 L168.2,176.6" fill="none" stroke="#101010" stroke-width="3.8" stroke-linecap="round" stroke-linejoin="round" filter="url(#b1)"/>
</g>
</g>
<text x="7.80" y="163.90" font-size="4.1" font-weight="bold" text-anchor="start" fill="#000" stroke="#000" stroke-width="0.22" textLength="16.20" lengthAdjust="spacingAndGlyphs">NAMPT</text>
<text x="7.80" y="182.40" font-size="4.1" font-weight="bold" text-anchor="start" fill="#000" stroke="#000" stroke-width="0.22" textLength="16.20" lengthAdjust="spacingAndGlyphs">GAPDH</text>
<polygon points="26.60,157.85 33.30,161.50 26.60,165.15" fill="#000"/>
<polygon points="26.60,175.95 33.30,179.60 26.60,183.25" fill="#000"/>
<line x1="174.60" y1="162.40" x2="176.60" y2="162.40" stroke="#111" stroke-width="0.9"/>
<line x1="174.60" y1="178.30" x2="176.60" y2="178.30" stroke="#111" stroke-width="0.9"/>
<text x="178.00" y="164.10" font-size="4.9" font-weight="normal" text-anchor="start" fill="#111" stroke="#111" stroke-width="0.1" textLength="10.80" lengthAdjust="spacingAndGlyphs">55kD</text>
<text x="178.00" y="180.10" font-size="4.9" font-weight="normal" text-anchor="start" fill="#111" stroke="#111" stroke-width="0.1" textLength="10.80" lengthAdjust="spacingAndGlyphs">37kD</text>
<rect x="241.20" y="152.50" width="63.90" height="17.00" fill="#969696" stroke="#2a2a2a" stroke-width="0.7" />
<rect x="241.20" y="172.30" width="63.90" height="16.40" fill="#666" stroke="#222" stroke-width="0.7" />
<clipPath id="c2a"><rect x="241.5" y="152.8" width="63.3" height="16.4"/></clipPath>
<clipPath id="c2b"><rect x="241.5" y="172.6" width="63.3" height="15.8"/></clipPath>
<g clip-path="url(#c2a)">
<rect x="235.00" y="150.00" width="26.00" height="22.00" rx="11.00" fill="#7e7e7e" opacity="0.9" filter="url(#b2)"/>
<path d="M243.8,161.7 L256.4,162.4" fill="none" stroke="#0a0a0a" stroke-width="2.5" stroke-linecap="round" filter="url(#b3)"/>
<rect x="263.25" y="157.90" width="15.50" height="4.60" rx="2.30" fill="#a9a9a9" opacity="0.8" filter="url(#b2)"/>
<rect x="266.00" y="159.05" width="10.00" height="1.10" rx="0.55" fill="#868686" opacity="0.9" filter="url(#b1)"/>
<rect x="283.75" y="158.40" width="16.50" height="4.40" rx="2.20" fill="#a8a8a8" opacity="0.8" filter="url(#b2)"/>
<rect x="286.00" y="159.95" width="12.00" height="1.10" rx="0.55" fill="#848484" opacity="0.9" filter="url(#b1)"/>
</g>
<g clip-path="url(#c2b)">
<rect x="240" y="171.5" width="66" height="5" fill="#787878" opacity="0.7" filter="url(#b2)"/>
<rect x="238.35" y="180.10" width="20.50" height="4.20" rx="2.10" fill="#000" opacity="1.0" filter="url(#b1)"/>
<rect x="263.30" y="179.10" width="15.80" height="3.20" rx="1.60" fill="#050505" opacity="1.0" filter="url(#b1)"/>
<rect x="283.80" y="178.60" width="17.60" height="3.40" rx="1.70" fill="#050505" opacity="1.0" filter="url(#b1)"/>
</g>
<text x="213.60" y="163.70" font-size="4.1" font-weight="bold" text-anchor="start" fill="#000" stroke="#000" stroke-width="0.22" textLength="16.40" lengthAdjust="spacingAndGlyphs">NAMPT</text>
<text x="213.60" y="182.00" font-size="4.1" font-weight="bold" text-anchor="start" fill="#000" stroke="#000" stroke-width="0.22" textLength="16.40" lengthAdjust="spacingAndGlyphs">GAPDH</text>
<polygon points="232.30,157.70 239.00,161.10 232.30,164.50" fill="#000"/>
<polygon points="232.30,175.90 239.00,179.30 232.30,182.70" fill="#000"/>
<line x1="305.80" y1="160.80" x2="307.80" y2="160.80" stroke="#111" stroke-width="0.9"/>
<line x1="305.80" y1="180.30" x2="307.80" y2="180.30" stroke="#111" stroke-width="0.9"/>
<text x="310.00" y="162.80" font-size="4.8" font-weight="normal" text-anchor="start" fill="#222" stroke="#111" stroke-width="0.1" textLength="10.60" lengthAdjust="spacingAndGlyphs">55kD</text>
<text x="310.00" y="182.40" font-size="4.8" font-weight="normal" text-anchor="start" fill="#222" stroke="#111" stroke-width="0.1" textLength="10.60" lengthAdjust="spacingAndGlyphs">37kD</text>
<rect x="368.90" y="152.80" width="134.20" height="16.60" fill="url(#g3a)" stroke="#2a2a2a" stroke-width="0.7" />
<rect x="368.90" y="171.40" width="134.20" height="16.80" fill="#909090" stroke="#222" stroke-width="0.7" />
<clipPath id="c3a"><rect x="369.2" y="153" width="133.6" height="16"/></clipPath>
<clipPath id="c3b"><rect x="369.2" y="171.8" width="133.6" height="16"/></clipPath>
<g clip-path="url(#c3a)">
<path d="M375.4,160.5 L394.2,160.8" fill="none" stroke="#0c0c0c" stroke-width="2.5" stroke-linecap="round" filter="url(#b3)"/>
<rect x="405.55" y="158.95" width="24.50" height="2.30" rx="1.15" fill="#686868" opacity="1.0" filter="url(#b3)"/>
<rect x="440.50" y="158.75" width="22.00" height="2.30" rx="1.15" fill="#555" opacity="1.0" filter="url(#b3)"/>
<rect x="474.00" y="158.35" width="24.00" height="2.30" rx="1.15" fill="#7c7c7c" opacity="1.0" filter="url(#b3)"/>
</g>
<g clip-path="url(#c3b)">
<rect x="371.30" y="173.90" width="31.00" height="12.00" rx="6.00" fill="#555" opacity="0.6" filter="url(#b2)"/>
<rect x="402.50" y="174.10" width="33.00" height="10.00" rx="5.00" fill="#555" opacity="0.6" filter="url(#b2)"/>
<rect x="437.20" y="173.50" width="31.00" height="10.00" rx="5.00" fill="#555" opacity="0.6" filter="url(#b2)"/>
<rect x="470.70" y="172.80" width="31.00" height="10.00" rx="5.00" fill="#555" opacity="0.6" filter="url(#b2)"/>
<rect x="373.10" y="175.60" width="27.40" height="8.60" rx="4.30" fill="#000" opacity="1.0" filter="url(#b1)"/>
<rect x="404.25" y="176.00" width="29.50" height="6.20" rx="3.10" fill="#000" opacity="1.0" filter="url(#b1)"/>
<rect x="438.80" y="175.20" width="27.80" height="6.60" rx="3.30" fill="#000" opacity="1.0" filter="url(#b1)"/>
<rect x="472.10" y="174.30" width="28.20" height="7.00" rx="3.50" fill="#000" opacity="1.0" filter="url(#b1)"/>
</g>
<text x="341.80" y="163.50" font-size="4.1" font-weight="bold" text-anchor="start" fill="#000" stroke="#000" stroke-width="0.22" textLength="15.60" lengthAdjust="spacingAndGlyphs">NAMPT</text>
<text x="341.80" y="182.10" font-size="4.1" font-weight="bold" text-anchor="start" fill="#000" stroke="#000" stroke-width="0.22" textLength="15.60" lengthAdjust="spacingAndGlyphs">GAPDH</text>
<polygon points="360.20,158.10 366.80,161.50 360.20,164.90" fill="#000"/>
<polygon points="360.20,176.20 366.80,179.60 360.20,183.00" fill="#000"/>
<line x1="503.40" y1="160.80" x2="505.60" y2="160.80" stroke="#111" stroke-width="0.9"/>
<line x1="503.40" y1="179.00" x2="505.60" y2="179.00" stroke="#111" stroke-width="0.9"/>
<text x="506.30" y="162.70" font-size="4.8" font-weight="normal" text-anchor="start" fill="#222" stroke="#111" stroke-width="0.1" textLength="10.50" lengthAdjust="spacingAndGlyphs">55kD</text>
<text x="506.30" y="181.10" font-size="4.8" font-weight="normal" text-anchor="start" fill="#222" stroke="#111" stroke-width="0.1" textLength="10.50" lengthAdjust="spacingAndGlyphs">37kD</text>
<line x1="26.50" y1="214.10" x2="26.50" y2="310.80" stroke="#444" stroke-width="0.8"/>
<line x1="24.70" y1="310.40" x2="26.50" y2="310.40" stroke="#333" stroke-width="0.8"/>
<text x="22.30" y="311.95" font-size="4.4" font-weight="normal" text-anchor="end" fill="#2a2a2a"  textLength="1.90" lengthAdjust="spacingAndGlyphs">0</text>
<line x1="24.70" y1="294.42" x2="26.50" y2="294.42" stroke="#333" stroke-width="0.8"/>
<text x="22.30" y="295.97" font-size="4.4" font-weight="normal" text-anchor="end" fill="#2a2a2a"  textLength="1.90" lengthAdjust="spacingAndGlyphs">2</text>
<line x1="24.70" y1="278.43" x2="26.50" y2="278.43" stroke="#333" stroke-width="0.8"/>
<text x="22.30" y="279.98" font-size="4.4" font-weight="normal" text-anchor="end" fill="#2a2a2a"  textLength="1.90" lengthAdjust="spacingAndGlyphs">4</text>
<line x1="24.70" y1="262.45" x2="26.50" y2="262.45" stroke="#333" stroke-width="0.8"/>
<text x="22.30" y="264.00" font-size="4.4" font-weight="normal" text-anchor="end" fill="#2a2a2a"  textLength="1.90" lengthAdjust="spacingAndGlyphs">6</text>
<line x1="24.70" y1="246.47" x2="26.50" y2="246.47" stroke="#333" stroke-width="0.8"/>
<text x="22.30" y="248.02" font-size="4.4" font-weight="normal" text-anchor="end" fill="#2a2a2a"  textLength="1.90" lengthAdjust="spacingAndGlyphs">8</text>
<line x1="24.70" y1="230.48" x2="26.50" y2="230.48" stroke="#333" stroke-width="0.8"/>
<text x="22.30" y="232.03" font-size="4.4" font-weight="normal" text-anchor="end" fill="#2a2a2a"  textLength="3.80" lengthAdjust="spacingAndGlyphs">10</text>
<line x1="24.70" y1="214.50" x2="26.50" y2="214.50" stroke="#333" stroke-width="0.8"/>
<text x="22.30" y="216.05" font-size="4.4" font-weight="normal" text-anchor="end" fill="#2a2a2a"  textLength="3.80" lengthAdjust="spacingAndGlyphs">12</text>
<line x1="38.45" y1="247.67" x2="38.45" y2="244.47" stroke="#555" stroke-width="0.7"/>
<line x1="34.06" y1="244.47" x2="42.84" y2="244.47" stroke="#555" stroke-width="0.7"/>
<rect x="30.00" y="247.67" width="16.90" height="62.73" fill="#fff" stroke="#666" stroke-width="0.7" />
<line x1="61.80" y1="288.82" x2="61.80" y2="281.23" stroke="#555" stroke-width="0.7"/>
<line x1="57.64" y1="281.23" x2="65.96" y2="281.23" stroke="#555" stroke-width="0.7"/>
<rect x="53.80" y="288.82" width="16.00" height="21.58" fill="#c8c8c8" stroke="#777" stroke-width="0.7" />
<line x1="85.70" y1="251.26" x2="85.70" y2="241.67" stroke="#555" stroke-width="0.7"/>
<line x1="81.49" y1="241.67" x2="89.91" y2="241.67" stroke="#555" stroke-width="0.7"/>
<rect x="77.60" y="251.26" width="16.20" height="59.14" fill="#999" stroke="#666" stroke-width="0.7" />
<line x1="109.00" y1="272.84" x2="109.00" y2="266.45" stroke="#555" stroke-width="0.7"/>
<line x1="104.84" y1="266.45" x2="113.16" y2="266.45" stroke="#555" stroke-width="0.7"/>
<rect x="101.00" y="272.84" width="16.00" height="37.56" fill="#707070" stroke="#4a4a4a" stroke-width="0.7" />
<line x1="132.50" y1="300.41" x2="132.50" y2="296.41" stroke="#555" stroke-width="0.7"/>
<line x1="128.39" y1="296.41" x2="136.61" y2="296.41" stroke="#555" stroke-width="0.7"/>
<rect x="124.60" y="300.41" width="15.80" height="9.99" fill="#4c4c4c" stroke="#333" stroke-width="0.7" />
<line x1="156.00" y1="260.45" x2="156.00" y2="252.86" stroke="#555" stroke-width="0.7"/>
<line x1="151.84" y1="252.86" x2="160.16" y2="252.86" stroke="#555" stroke-width="0.7"/>
<rect x="148.00" y="260.45" width="16.00" height="49.95" fill="#222" stroke="#111" stroke-width="0.7" />
<line x1="24.70" y1="310.40" x2="167.60" y2="310.40" stroke="#666" stroke-width="0.7"/>
<text transform="translate(34.40,326.00) rotate(-58)" font-size="4.5" font-weight="bold" font-style="italic" text-anchor="end" fill="#000" stroke="#000" stroke-width="0.2" textLength="33.8" lengthAdjust="spacingAndGlyphs">scramble shRNA</text>
<text transform="translate(60.00,323.10) rotate(-58)" font-size="4.5" font-weight="bold" font-style="italic" text-anchor="end" fill="#000" stroke="#000" stroke-width="0.2" textLength="38.0" lengthAdjust="spacingAndGlyphs">pLKO-shNampt#1</text>
<text transform="translate(83.60,323.10) rotate(-58)" font-size="4.5" font-weight="bold" font-style="italic" text-anchor="end" fill="#000" stroke="#000" stroke-width="0.2" textLength="38.0" lengthAdjust="spacingAndGlyphs">pLKO-shNampt#2</text>
<text transform="translate(107.20,323.10) rotate(-58)" font-size="4.5" font-weight="bold" font-style="italic" text-anchor="end" fill="#000" stroke="#000" stroke-width="0.2" textLength="38.0" lengthAdjust="spacingAndGlyphs">pLKO-shNampt#3</text>
<text transform="translate(130.80,323.10) rotate(-58)" font-size="4.5" font-weight="bold" font-style="italic" text-anchor="end" fill="#000" stroke="#000" stroke-width="0.2" textLength="38.0" lengthAdjust="spacingAndGlyphs">pLKO-shNampt#4</text>
<text transform="translate(154.40,323.10) rotate(-58)" font-size="4.5" font-weight="bold" font-style="italic" text-anchor="end" fill="#000" stroke="#000" stroke-width="0.2" textLength="38.0" lengthAdjust="spacingAndGlyphs">pLKO-shNampt#5</text>
<text transform="translate(10.80,261.50) rotate(-90)" font-size="3.9" font-weight="bold" text-anchor="middle" fill="#444" textLength="57" lengthAdjust="spacingAndGlyphs">NAD+ level  (pMol/&#181;g of protein)</text>
<line x1="229.50" y1="214.80" x2="229.50" y2="310.80" stroke="#444" stroke-width="0.8"/>
<line x1="228.40" y1="310.40" x2="229.50" y2="310.40" stroke="#333" stroke-width="0.8"/>
<text x="225.10" y="311.95" font-size="4.4" font-weight="normal" text-anchor="end" fill="#222"  textLength="1.40" lengthAdjust="spacingAndGlyphs">0</text>
<line x1="228.40" y1="294.53" x2="229.50" y2="294.53" stroke="#333" stroke-width="0.8"/>
<text x="225.10" y="296.08" font-size="4.4" font-weight="normal" text-anchor="end" fill="#222"  textLength="1.40" lengthAdjust="spacingAndGlyphs">2</text>
<line x1="228.40" y1="278.67" x2="229.50" y2="278.67" stroke="#333" stroke-width="0.8"/>
<text x="225.10" y="280.22" font-size="4.4" font-weight="normal" text-anchor="end" fill="#222"  textLength="1.40" lengthAdjust="spacingAndGlyphs">4</text>
<line x1="228.40" y1="262.80" x2="229.50" y2="262.80" stroke="#333" stroke-width="0.8"/>
<text x="225.10" y="264.35" font-size="4.4" font-weight="normal" text-anchor="end" fill="#222"  textLength="1.40" lengthAdjust="spacingAndGlyphs">6</text>
<line x1="228.40" y1="246.93" x2="229.50" y2="246.93" stroke="#333" stroke-width="0.8"/>
<text x="225.10" y="248.48" font-size="4.4" font-weight="normal" text-anchor="end" fill="#222"  textLength="1.40" lengthAdjust="spacingAndGlyphs">8</text>
<line x1="228.40" y1="231.07" x2="229.50" y2="231.07" stroke="#333" stroke-width="0.8"/>
<text x="225.10" y="232.62" font-size="4.4" font-weight="normal" text-anchor="end" fill="#222"  textLength="2.80" lengthAdjust="spacingAndGlyphs">10</text>
<line x1="228.40" y1="215.20" x2="229.50" y2="215.20" stroke="#333" stroke-width="0.8"/>
<text x="225.10" y="216.75" font-size="4.4" font-weight="normal" text-anchor="end" fill="#222"  textLength="2.80" lengthAdjust="spacingAndGlyphs">12</text>
<line x1="243.20" y1="242.57" x2="243.20" y2="236.22" stroke="#222" stroke-width="0.9"/>
<line x1="238.62" y1="236.22" x2="247.78" y2="236.22" stroke="#222" stroke-width="0.9"/>
<rect x="234.40" y="242.57" width="17.60" height="67.83" fill="#fff" stroke="#444" stroke-width="0.7" />
<line x1="269.00" y1="283.03" x2="269.00" y2="276.68" stroke="#222" stroke-width="0.9"/>
<line x1="264.53" y1="276.68" x2="273.47" y2="276.68" stroke="#222" stroke-width="0.9"/>
<rect x="260.40" y="283.03" width="17.20" height="27.37" fill="#666" stroke="#333" stroke-width="0.7" />
<line x1="295.10" y1="307.23" x2="295.10" y2="306.43" stroke="#222" stroke-width="0.9"/>
<line x1="290.58" y1="306.43" x2="299.62" y2="306.43" stroke="#222" stroke-width="0.9"/>
<rect x="286.40" y="307.23" width="17.40" height="3.17" fill="#787878" stroke="#444" stroke-width="0.7" />
<line x1="228.40" y1="310.40" x2="308.00" y2="310.40" stroke="#666" stroke-width="0.7"/>
<text transform="translate(238.00,326.60) rotate(-58)" font-size="4.5" font-weight="bold" font-style="italic" text-anchor="end" fill="#000" stroke="#000" stroke-width="0.2" textLength="33.8" lengthAdjust="spacingAndGlyphs">scramble shRNA</text>
<text transform="translate(265.90,323.20) rotate(-58)" font-size="4.5" font-weight="bold" font-style="italic" text-anchor="end" fill="#000" stroke="#000" stroke-width="0.2" textLength="37.6" lengthAdjust="spacingAndGlyphs">pLKO-shNampt#1</text>
<text transform="translate(291.70,323.00) rotate(-58)" font-size="4.5" font-weight="bold" font-style="italic" text-anchor="end" fill="#000" stroke="#000" stroke-width="0.2" textLength="37.6" lengthAdjust="spacingAndGlyphs">pLKO-shNampt#4</text>
<text transform="translate(216.00,260.50) rotate(-90)" font-size="3.9" font-weight="bold" text-anchor="middle" fill="#444" textLength="56" lengthAdjust="spacingAndGlyphs">NAD+ level  (pMol/&#181;g of protein)</text>
<line x1="379.50" y1="214.80" x2="379.50" y2="310.80" stroke="#444" stroke-width="0.8"/>
<line x1="377.50" y1="310.40" x2="379.50" y2="310.40" stroke="#333" stroke-width="0.8"/>
<text x="374.80" y="311.95" font-size="4.4" font-weight="normal" text-anchor="end" fill="#111"  textLength="1.90" lengthAdjust="spacingAndGlyphs">0</text>
<line x1="377.50" y1="294.53" x2="379.50" y2="294.53" stroke="#333" stroke-width="0.8"/>
<text x="374.80" y="296.08" font-size="4.4" font-weight="normal" text-anchor="end" fill="#111"  textLength="1.90" lengthAdjust="spacingAndGlyphs">2</text>
<line x1="377.50" y1="278.67" x2="379.50" y2="278.67" stroke="#333" stroke-width="0.8"/>
<text x="374.80" y="280.22" font-size="4.4" font-weight="normal" text-anchor="end" fill="#111"  textLength="1.90" lengthAdjust="spacingAndGlyphs">4</text>
<line x1="377.50" y1="262.80" x2="379.50" y2="262.80" stroke="#333" stroke-width="0.8"/>
<text x="374.80" y="264.35" font-size="4.4" font-weight="normal" text-anchor="end" fill="#111"  textLength="1.90" lengthAdjust="spacingAndGlyphs">6</text>
<line x1="377.50" y1="246.93" x2="379.50" y2="246.93" stroke="#333" stroke-width="0.8"/>
<text x="374.80" y="248.48" font-size="4.4" font-weight="normal" text-anchor="end" fill="#111"  textLength="1.90" lengthAdjust="spacingAndGlyphs">8</text>
<line x1="377.50" y1="231.07" x2="379.50" y2="231.07" stroke="#333" stroke-width="0.8"/>
<text x="374.80" y="232.62" font-size="4.4" font-weight="normal" text-anchor="end" fill="#111"  textLength="3.80" lengthAdjust="spacingAndGlyphs">10</text>
<line x1="377.50" y1="215.20" x2="379.50" y2="215.20" stroke="#333" stroke-width="0.8"/>
<text x="374.80" y="216.75" font-size="4.4" font-weight="normal" text-anchor="end" fill="#111"  textLength="3.80" lengthAdjust="spacingAndGlyphs">12</text>
<line x1="394.50" y1="258.04" x2="394.50" y2="252.49" stroke="#333" stroke-width="0.8"/>
<line x1="389.56" y1="252.49" x2="399.44" y2="252.49" stroke="#333" stroke-width="0.8"/>
<rect x="385.00" y="258.04" width="19.00" height="52.36" fill="#fff" stroke="#3a3a3a" stroke-width="0.85" />
<line x1="423.70" y1="288.98" x2="423.70" y2="286.44" stroke="#333" stroke-width="0.8"/>
<line x1="418.66" y1="286.44" x2="428.74" y2="286.44" stroke="#333" stroke-width="0.8"/>
<rect x="414.00" y="288.98" width="19.40" height="21.42" fill="#6a6a6a" stroke="#333" stroke-width="0.85" />
<line x1="453.20" y1="276.68" x2="453.20" y2="273.67" stroke="#333" stroke-width="0.8"/>
<line x1="448.10" y1="273.67" x2="458.30" y2="273.67" stroke="#333" stroke-width="0.8"/>
<rect x="443.40" y="276.68" width="19.60" height="33.72" fill="#999" stroke="#555" stroke-width="0.85" />
<line x1="482.50" y1="301.67" x2="482.50" y2="299.45" stroke="#333" stroke-width="0.8"/>
<line x1="477.56" y1="299.45" x2="487.44" y2="299.45" stroke="#333" stroke-width="0.8"/>
<rect x="473.00" y="301.67" width="19.00" height="8.73" fill="#4a4a4a" stroke="#2a2a2a" stroke-width="0.85" />
<line x1="377.50" y1="310.40" x2="497.00" y2="310.40" stroke="#666" stroke-width="0.7"/>
<text transform="translate(389.40,324.90) rotate(-58)" font-size="4.5" font-weight="bold" font-style="italic" text-anchor="end" fill="#000" stroke="#000" stroke-width="0.2" textLength="33.8" lengthAdjust="spacingAndGlyphs">scramble shRNA</text>
<text transform="translate(420.40,322.40) rotate(-58)" font-size="4.5" font-weight="bold" font-style="italic" text-anchor="end" fill="#000" stroke="#000" stroke-width="0.2" textLength="37.6" lengthAdjust="spacingAndGlyphs">pLKO-shNampt#1</text>
<text transform="translate(449.70,322.40) rotate(-58)" font-size="4.5" font-weight="bold" font-style="italic" text-anchor="end" fill="#000" stroke="#000" stroke-width="0.2" textLength="37.6" lengthAdjust="spacingAndGlyphs">pLKO-shNampt#3</text>
<text transform="translate(479.60,322.40) rotate(-58)" font-size="4.5" font-weight="bold" font-style="italic" text-anchor="end" fill="#000" stroke="#000" stroke-width="0.2" textLength="37.6" lengthAdjust="spacingAndGlyphs">pLKO-shNampt#4</text>
<text transform="translate(362.40,261.00) rotate(-90)" font-size="3.9" font-weight="bold" text-anchor="middle" fill="#444" textLength="56" lengthAdjust="spacingAndGlyphs">NAD+ level  (pMol/&#181;g of protein)</text>
</g>
</svg>
</body></html>
